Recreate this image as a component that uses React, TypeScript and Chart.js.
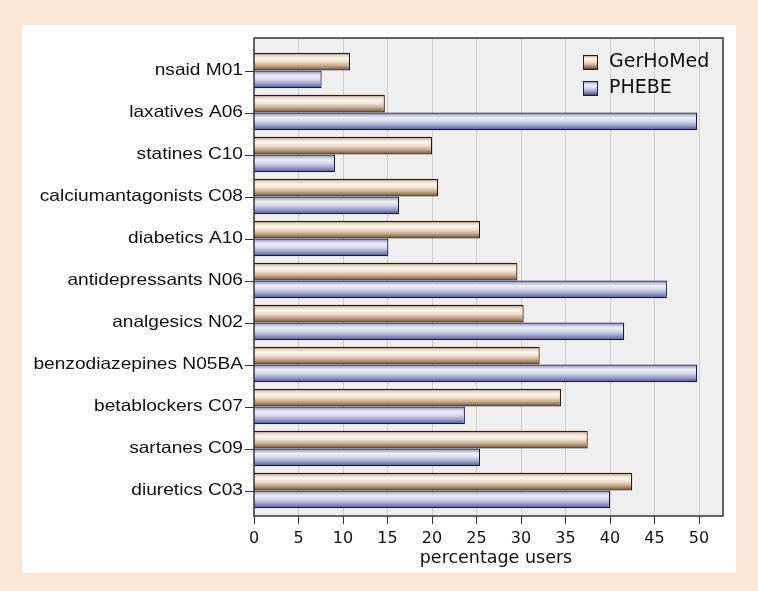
import React, { useEffect, useRef } from "react";
import { Chart, registerables } from "chart.js";

Chart.register(...registerables);

const categories = [
  "nsaid M01",
  "laxatives A06",
  "statines C10",
  "calciumantagonists C08",
  "diabetics A10",
  "antidepressants N06",
  "analgesics N02",
  "benzodiazepines N05BA",
  "betablockers C07",
  "sartanes C09",
  "diuretics C03",
];
const gerhomed = [10.8, 14.7, 20.0, 20.7, 25.4, 29.6, 30.3, 32.1, 34.5, 37.5, 42.5];
const phebe = [7.6, 49.8, 9.1, 16.3, 15.1, 46.4, 41.6, 49.8, 23.7, 25.4, 40.0];
const seriesNames = ["GerHoMed", "PHEBE"];
const xTicks = [0, 5, 10, 15, 20, 25, 30, 35, 40, 45, 50];
const xTitle = "percentage users";
const xMax = 52.7;
const catPct = 0.84;

const gradStops = [
  [
    [0, "#9c7c5c"],
    [0.15, "#e6d4c2"],
    [0.3, "#fdf8f2"],
    [0.5, "#eedfcf"],
    [0.72, "#c9ab8c"],
    [0.9, "#8e6e4e"],
    [1, "#5e4228"],
  ],
  [
    [0, "#7375aa"],
    [0.15, "#bcc0da"],
    [0.3, "#eff1f8"],
    [0.5, "#d6d9ea"],
    [0.72, "#a2a5cb"],
    [0.9, "#6c6ea8"],
    [1, "#3e4080"],
  ],
];
const borderColors = ["#2a1a10", "#1c1c40"];

function makeGrad(c: CanvasRenderingContext2D, i: number, top: number, h: number) {
  const g = c.createLinearGradient(0, top, 0, top + h);
  for (const [o, col] of gradStops[i]) g.addColorStop(o as number, col as string);
  return g;
}

const FRAME = { left: 254, top: 38, right: 723, bottom: 516 };

export default function App() {
  const ref = useRef<HTMLCanvasElement>(null);
  useEffect(() => {
    document.body.style.margin = "0";
    const canvas = ref.current!;
    const bg = (dsIndex: number) => (ctx: any) => {
      const chart = ctx.chart;
      const y = chart.scales?.y;
      const fallback = gradStops[dsIndex][3][1];
      if (!y || ctx.type !== "data") return fallback;
      const center = y.getPixelForValue(ctx.dataIndex);
      const band = y.height / categories.length;
      if (!isFinite(center) || !isFinite(band) || band <= 0) return fallback;
      const barH = (band * catPct) / 2;
      const top = dsIndex === 0 ? center - barH : center;
      return makeGrad(chart.ctx, dsIndex, top, barH);
    };
    const framePlugin = {
      id: "frame",
      beforeDraw(chart: any) {
        const { ctx } = chart;
        ctx.save();
        ctx.fillStyle = "#efefef";
        ctx.fillRect(FRAME.left, FRAME.top, FRAME.right - FRAME.left, FRAME.bottom - FRAME.top);
        ctx.restore();
      },
      beforeDatasetsDraw(chart: any) {
        const { ctx } = chart;
        const xs = chart.scales.x;
        ctx.save();
        ctx.strokeStyle = "#cdcdcd";
        ctx.lineWidth = 1;
        for (const v of xTicks) {
          if (v === 0) continue;
          const px = Math.round(xs.getPixelForValue(v)) + 0.5;
          ctx.beginPath();
          ctx.moveTo(px, FRAME.top);
          ctx.lineTo(px, FRAME.bottom);
          ctx.stroke();
        }
        ctx.restore();
      },
      afterDraw(chart: any) {
        const { ctx } = chart;
        const xs = chart.scales.x;
        const ys = chart.scales.y;
        ctx.save();
        // x tick marks
        ctx.strokeStyle = "#333";
        ctx.lineWidth = 1;
        for (const v of xTicks) {
          const px = Math.round(xs.getPixelForValue(v)) + 0.5;
          ctx.beginPath();
          ctx.moveTo(px, FRAME.bottom);
          ctx.lineTo(px, FRAME.bottom + 8);
          ctx.stroke();
        }
        // x title
        ctx.fillStyle = "#111";
        ctx.font = "17.5px 'DejaVu Sans'";
        ctx.textAlign = "center";
        ctx.textBaseline = "middle";
        ctx.fillText(xTitle, 496, 558);
        // y tick marks + labels
        ctx.textAlign = "right";
        ctx.font = "16.5px 'Liberation Sans', Arial, sans-serif";
        categories.forEach((label, i) => {
          const py = ys.getPixelForValue(i);
          ctx.beginPath();
          ctx.moveTo(FRAME.left - 9, Math.round(py) + 0.5);
          ctx.lineTo(FRAME.left, Math.round(py) + 0.5);
          ctx.stroke();
          ctx.save();
          ctx.translate(FRAME.left - 11, py);
          ctx.scale(1.16, 1);
          ctx.fillText(label, 0, 0);
          ctx.restore();
        });
        // frame
        ctx.strokeStyle = "#333333";
        ctx.lineWidth = 1.5;
        ctx.strokeRect(FRAME.left, FRAME.top, FRAME.right - FRAME.left, FRAME.bottom - FRAME.top);
        // legend
        const bx = 583;
        const rows = [55, 81];
        ctx.font = "19px 'DejaVu Sans'";
        ctx.textAlign = "left";
        seriesNames.forEach((name, i) => {
          const y = rows[i];
          ctx.fillStyle = makeGrad(ctx, i, y, 14);
          ctx.fillRect(bx, y, 14, 14);
          ctx.strokeStyle = borderColors[i];
          ctx.lineWidth = 1;
          ctx.strokeRect(bx + 0.5, y + 0.5, 14, 14);
          ctx.fillStyle = "#111";
          ctx.fillText(name, 609, y + 7.5);
        });
        ctx.restore();
      },
    };
    const chart = new Chart(canvas, {
      type: "bar",
      data: {
        labels: categories,
        datasets: [
          {
            label: seriesNames[0],
            data: gerhomed,
            backgroundColor: bg(0),
            borderColor: borderColors[0],
            borderWidth: 1.2,
            borderSkipped: "start",
            categoryPercentage: catPct,
            barPercentage: 1.0,
          },
          {
            label: seriesNames[1],
            data: phebe,
            backgroundColor: bg(1),
            borderColor: borderColors[1],
            borderWidth: 1.2,
            borderSkipped: "start",
            categoryPercentage: catPct,
            barPercentage: 1.0,
          },
        ],
      },
      options: {
        indexAxis: "y",
        responsive: false,
        animation: false,
        layout: { padding: { left: 0, top: 49.5, right: 35, bottom: 22.5 } },
        plugins: { legend: { display: false }, tooltip: { enabled: false } },
        scales: {
          x: {
            min: 0,
            max: xMax,
            afterFit: (s: any) => {
              s.height = 57;
            },
            afterBuildTicks: (s: any) => {
              s.ticks = xTicks.map((v) => ({ value: v }));
            },
            grid: { display: false, drawTicks: false },
            border: { display: false },
            ticks: {
              color: "#111",
              font: { family: "'DejaVu Sans'", size: 16 },
              padding: 18,
            },
            title: { display: false },
          },
          y: {
            afterFit: (s: any) => {
              s.width = 254;
            },
            grid: { display: false },
            border: { display: false },
            ticks: { display: false },
          },
        },
      },
      plugins: [framePlugin],
    } as any);
    return () => chart.destroy();
  }, []);
  return (
    <div style={{ position: "relative", width: 758, height: 591, background: "#fae6d5", overflow: "hidden" }}>
      <div style={{ position: "absolute", left: 22, top: 25, width: 714, height: 548, background: "#ffffff" }} />
      <canvas ref={ref} width={758} height={591} style={{ position: "absolute", left: 0, top: 0 }} />
    </div>
  );
}
